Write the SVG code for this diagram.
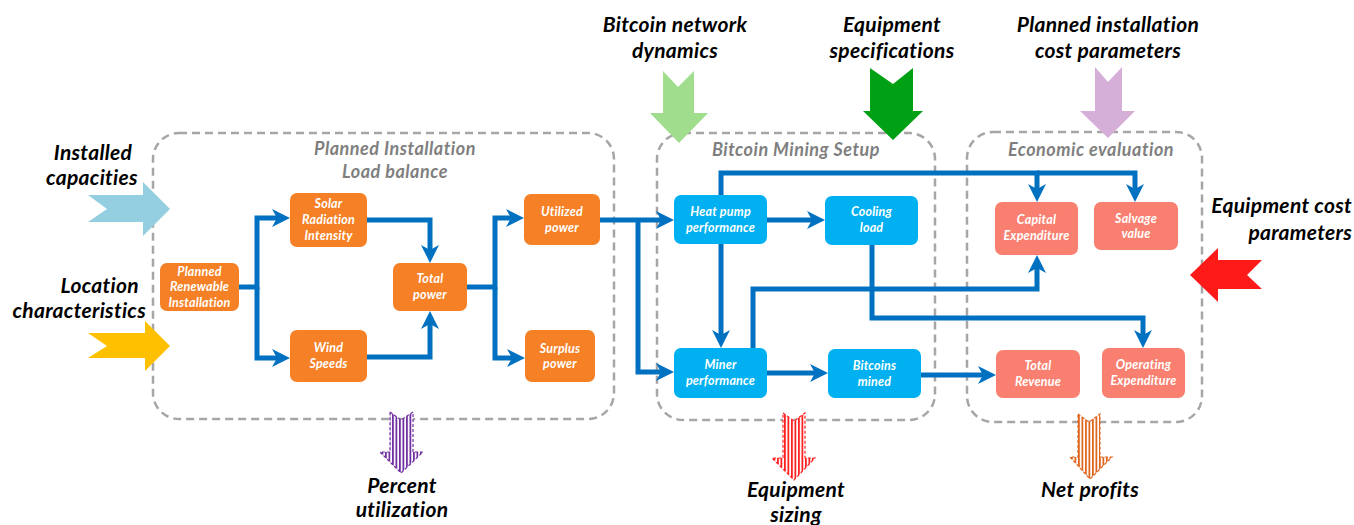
<svg xmlns="http://www.w3.org/2000/svg" width="1354" height="525" viewBox="0 0 1354 525">
<style>
.bg{fill:#ffffff}
.grp{fill:none;stroke:#A6A6A6;stroke-width:2.5;stroke-dasharray:8 5}
.hd{font-family:Lato,"Open Sans",sans-serif;font-style:italic;font-weight:700;font-size:18px;letter-spacing:0.5px;fill:#7F7F7F;text-anchor:middle}
.lb{font-family:Lato,"Open Sans",sans-serif;font-style:italic;font-weight:700;font-size:21px;letter-spacing:0.3px;fill:#000}
.c{text-anchor:middle}
.r{text-anchor:end}
.nt{font-family:Lato,"Open Sans",sans-serif;font-style:italic;font-weight:700;font-size:12.5px;letter-spacing:0.2px;fill:#ffffff;text-anchor:middle}
.or{fill:#F68025}
.bl{fill:#00B0F0}
.sa{fill:#F98070}
.cn{fill:none;stroke:#0070C0;stroke-width:5;marker-end:url(#ah)}
</style>
<defs>
<marker id="ah" markerUnits="userSpaceOnUse" markerWidth="20" markerHeight="20" viewBox="0 0 20 20" refX="8" refY="9" orient="auto">
<path d="M0,0 L18,9 L0,18 L5,9 Z" fill="#0070C0"/>
</marker>
<pattern id="stP" width="3.5" height="4" patternUnits="userSpaceOnUse"><rect width="3.5" height="4" fill="#fff"/><rect width="1.8" height="4" fill="#7030A0"/></pattern>
<pattern id="stR" width="3.5" height="4" patternUnits="userSpaceOnUse"><rect width="3.5" height="4" fill="#fff"/><rect width="1.8" height="4" fill="#FF2020"/></pattern>
<pattern id="stO" width="3.5" height="4" patternUnits="userSpaceOnUse"><rect width="3.5" height="4" fill="#fff"/><rect width="1.8" height="4" fill="#E0661F"/></pattern>
</defs>
<rect class="bg" width="1354" height="525"/>

<g id="group-load-balance">
<rect class="grp" x="153" y="133" width="461" height="286" rx="26"/>
<text class="hd" x="395" y="155">Planned Installation</text>
<text class="hd" x="395" y="178">Load balance</text>
</g>
<g id="group-mining">
<rect class="grp" x="657" y="133" width="278" height="287" rx="26"/>
<text class="hd" x="796" y="156">Bitcoin Mining Setup</text>
</g>
<g id="group-economic">
<rect class="grp" x="967" y="132" width="235" height="290" rx="26"/>
<text class="hd" x="1091" y="156">Economic evaluation</text>
</g>

<g id="connectors">
<path class="cn" d="M239,287 H257 V218 H280"/>
<path class="cn" d="M257,287 V358 H280"/>
<path class="cn" d="M367,220 H430 V253"/>
<path class="cn" d="M367,357 H430 V321"/>
<path class="cn" d="M467,287 H495 V218 H514"/>
<path class="cn" d="M495,287 V358 H515"/>
<path class="cn" d="M600,220 H664"/>
<path class="cn" d="M638,220 V372 H664"/>
<path class="cn" d="M767,220 H815"/>
<path class="cn" d="M721,244 V338"/>
<path class="cn" d="M721,195 V173 H1037 V192"/>
<path class="cn" d="M1037,173 H1135 V192"/>
<path class="cn" d="M753,348 V289 H1037 V265"/>
<path class="cn" d="M872,245 V318 H1143 V338"/>
<path class="cn" d="M767,373 H818"/>
<path class="cn" d="M921,375 H986"/>
</g>

<g id="node-planned-renewable">
<rect class="or" x="160" y="263" width="79" height="48" rx="7"/>
<text class="nt" x="199.5" y="276">Planned</text>
<text class="nt" x="199.5" y="291">Renewable</text>
<text class="nt" x="199.5" y="307">Installation</text>
</g>
<g id="node-solar">
<rect class="or" x="290" y="193" width="77" height="54" rx="7"/>
<text class="nt" x="328.5" y="208">Solar</text>
<text class="nt" x="328.5" y="224">Radiation</text>
<text class="nt" x="328.5" y="240">Intensity</text>
</g>
<g id="node-wind">
<rect class="or" x="290" y="330" width="77" height="52" rx="7"/>
<text class="nt" x="328.5" y="352">Wind</text>
<text class="nt" x="328.5" y="368">Speeds</text>
</g>
<g id="node-total-power">
<rect class="or" x="393" y="263" width="74" height="48" rx="7"/>
<text class="nt" x="430" y="283">Total</text>
<text class="nt" x="430" y="299">power</text>
</g>
<g id="node-utilized">
<rect class="or" x="524" y="194" width="76" height="51" rx="7"/>
<text class="nt" x="562" y="216">Utilized</text>
<text class="nt" x="562" y="232">power</text>
</g>
<g id="node-surplus">
<rect class="or" x="525" y="330" width="70" height="52" rx="7"/>
<text class="nt" x="560" y="353">Surplus</text>
<text class="nt" x="560" y="368">power</text>
</g>

<g id="node-heat-pump">
<rect class="bl" x="674" y="195" width="93" height="49" rx="7"/>
<text class="nt" x="720.5" y="216">Heat pump</text>
<text class="nt" x="720.5" y="232">performance</text>
</g>
<g id="node-cooling">
<rect class="bl" x="825" y="196" width="93" height="49" rx="7"/>
<text class="nt" x="871.5" y="216">Cooling</text>
<text class="nt" x="871.5" y="232">load</text>
</g>
<g id="node-miner">
<rect class="bl" x="674" y="348" width="93" height="50" rx="7"/>
<text class="nt" x="720.5" y="369">Miner</text>
<text class="nt" x="720.5" y="385">performance</text>
</g>
<g id="node-bitcoins">
<rect class="bl" x="828" y="349" width="93" height="49" rx="7"/>
<text class="nt" x="874.5" y="370">Bitcoins</text>
<text class="nt" x="874.5" y="386">mined</text>
</g>

<g id="node-capex">
<rect class="sa" x="995" y="202" width="83" height="53" rx="7"/>
<text class="nt" x="1036.5" y="224">Capital</text>
<text class="nt" x="1036.5" y="240">Expenditure</text>
</g>
<g id="node-salvage">
<rect class="sa" x="1094" y="202" width="84" height="48" rx="7"/>
<text class="nt" x="1136" y="223">Salvage</text>
<text class="nt" x="1136" y="238">value</text>
</g>
<g id="node-revenue">
<rect class="sa" x="996" y="350" width="84" height="48" rx="7"/>
<text class="nt" x="1038" y="370">Total</text>
<text class="nt" x="1038" y="386">Revenue</text>
</g>
<g id="node-opex">
<rect class="sa" x="1102" y="348" width="83" height="50" rx="7"/>
<text class="nt" x="1143.5" y="369">Operating</text>
<text class="nt" x="1143.5" y="385">Expenditure</text>
</g>

<g id="input-installed-capacities">
<polygon points="88,195 143,195 143,182 170,209 143,236 143,222 88,222 107,209" fill="#93CEE1"/>
<text class="lb c" x="93" y="160">Installed</text>
<text class="lb c" x="92" y="185">capacities</text>
</g>
<g id="input-location">
<polygon points="88,333 145,333 145,321 170,346 145,371 145,358 88,358 107,346" fill="#FFC000"/>
<text class="lb r" x="139" y="293">Location</text>
<text class="lb r" x="146" y="318">characteristics</text>
</g>
<g id="input-network">
<polygon points="663,71 678,87 694,71 694,113 708,113 679,143 650,113 663,113" fill="#A0DE8E"/>
<text class="lb c" x="675" y="32">Bitcoin network</text>
<text class="lb c" x="675" y="58">dynamics</text>
</g>
<g id="input-equipment-specs">
<polygon points="870,68 893,84 913,68 913,111 923,111 893,140 863,111 870,111" fill="#00A014"/>
<text class="lb c" x="892" y="32">Equipment</text>
<text class="lb c" x="892" y="58">specifications</text>
</g>
<g id="input-cost-params">
<polygon points="1095,67 1108,82 1122,67 1122,111 1135,111 1108,138 1080,111 1095,111" fill="#D5AFD8"/>
<text class="lb c" x="1108" y="32">Planned installation</text>
<text class="lb c" x="1108" y="58">cost parameters</text>
</g>
<g id="input-equipment-cost">
<polygon points="1190,275 1218,248 1218,260 1262,260 1247,275 1262,289 1218,289 1218,302" fill="#FF1A1A"/>
<text class="lb r" x="1352" y="213">Equipment cost</text>
<text class="lb r" x="1352" y="240">parameters</text>
</g>

<g id="output-percent">
<polygon points="390,412 401,420 413,412 413,452 423,452 401,473 380,452 390,452" fill="url(#stP)" stroke="#7030A0" stroke-width="1.2" stroke-dasharray="3 2"/>
<text class="lb c" x="402" y="493">Percent</text>
<text class="lb c" x="402" y="517">utilization</text>
</g>
<g id="output-sizing">
<polygon points="783,413 794,421 805,413 805,458 815,458 794,480 772,458 783,458" fill="url(#stR)" stroke="#FF2020" stroke-width="1.2" stroke-dasharray="3 2"/>
<text class="lb c" x="796" y="497">Equipment</text>
<text class="lb c" x="796" y="522">sizing</text>
</g>
<g id="output-profits">
<polygon points="1078,414 1089,422 1100,414 1100,457 1112,457 1090,479 1070,457 1078,457" fill="url(#stO)" stroke="#E0661F" stroke-width="1.2" stroke-dasharray="3 2"/>
<text class="lb c" x="1090" y="497">Net profits</text>
</g>
</svg>
